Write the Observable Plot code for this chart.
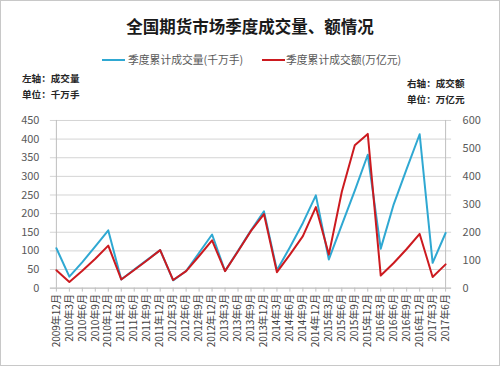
<!DOCTYPE html>
<html>
<head>
<meta charset="utf-8">
<script src="https://cdn.jsdelivr.net/npm/d3@7"></script>
<script src="https://cdn.jsdelivr.net/npm/@observablehq/plot@0.6"></script>
<style>
  html, body { margin: 0; padding: 0; background: #fff; }
  #wrap { position: relative; width: 500px; height: 366px; box-sizing: border-box; border: 1px solid #c8c8c8; overflow: hidden; font-family: "Noto Sans CJK SC", "Noto Sans", sans-serif; }
  .abs { position: absolute; white-space: nowrap; }
  #title { left: 0; width: 498px; top: 13px; text-align: center; font-size: 16.5px; font-weight: bold; color: #1a1a1a; }
  .leg { top: 50px; font-size: 10.8px; color: #595959; }
  .sw { position: absolute; top: 58px; height: 2px; width: 23px; }
  .note { font-size: 9.6px; font-weight: bold; color: #262626; }
  #chart { position: absolute; left: -1px; top: 109px; }
</style>
</head>
<body>
<div id="wrap">
  <div id="title" class="abs">全国期货市场季度成交量、额情况</div>
  <div class="sw" style="left:101px;background:#2fa8d2"></div>
  <div class="abs leg" style="left:127px">季度累计成交量(千万手)</div>
  <div class="sw" style="left:261px;background:#cc1a1f"></div>
  <div class="abs leg" style="left:285px">季度累计成交额(万亿元)</div>
  <div class="abs note" style="left:21px;top:70px">左轴：成交量</div>
  <div class="abs note" style="left:21px;top:86px">单位：千万手</div>
  <div class="abs note" style="left:406px;top:75px">右轴：成交额</div>
  <div class="abs note" style="left:406px;top:91px">单位：万亿元</div>
  <div id="chart"></div>
</div>
<script>
const categories = ["2009年12月","2010年3月","2010年6月","2010年9月","2010年12月","2011年3月","2011年6月","2011年9月","2011年12月","2012年3月","2012年6月","2012年9月","2012年12月","2013年3月","2013年6月","2013年9月","2013年12月","2014年3月","2014年6月","2014年9月","2014年12月","2015年3月","2015年6月","2015年9月","2015年12月","2016年3月","2016年6月","2016年9月","2016年12月","2017年3月","2017年6月"];
// 季度累计成交量 (千万手), left axis
const volume = [107, 31, 70, 112, 155, 23, 50, 76, 102, 21, 46, 95, 144, 46, 100, 155, 206, 48, 110, 175, 249, 77, 170, 262, 358, 106, 225, 320, 413, 68, 148];
// 季度累计成交额 (万亿元), right axis
const turnover = [64, 22, 62, 105, 152, 31, 65, 100, 136, 29, 61, 115, 171, 61, 132, 205, 265, 57, 120, 186, 290, 120, 345, 511, 552, 45, 90, 140, 194, 40, 85];
const leftTicks = [0, 50, 100, 150, 200, 250, 300, 350, 400, 450];
const rightTicks = [0, 100, 200, 300, 400, 500, 600];

const leftMax = 450, rightMax = 600;
const k = leftMax / rightMax;

const volData = categories.map((c, i) => ({c, v: volume[i]}));
const turnData = categories.map((c, i) => ({c, v: turnover[i] * k}));

const chart = Plot.plot({
  width: 500,
  height: 257,
  marginTop: 10,
  marginBottom: 79,
  marginLeft: 50,
  marginRight: 48,
  style: {fontFamily: "'Noto Sans CJK SC', 'Noto Sans', sans-serif", fontSize: "10px", color: "#404040", background: "transparent"},
  x: {type: "point", domain: categories, padding: 0},
  y: {domain: [0, leftMax]},
  marks: [
    Plot.gridY(leftTicks, {stroke: "#d4d4d4", strokeOpacity: 1}),
    Plot.ruleX([categories[0], categories[categories.length - 1]], {stroke: "#bfbfbf"}),
    Plot.ruleY([0], {stroke: "#bfbfbf"}),
    Plot.axisY(leftTicks, {anchor: "left", tickSize: 0, tickPadding: 11, fontSize: 11, fill: "#595959", label: null}),
    Plot.axisY(rightTicks.map(t => t * k), {anchor: "right", tickSize: 0, tickPadding: 11, fontSize: 11, fill: "#595959", tickFormat: d => Math.round(d / k), label: null}),
    Plot.axisX({tickRotate: -90, tickSize: 4, tickPadding: 2, stroke: "#bfbfbf", fill: "#404040", fontSize: 10, label: null}),
    Plot.line(volData, {x: "c", y: "v", stroke: "#2fa8d2", strokeWidth: 2}),
    Plot.line(turnData, {x: "c", y: "v", stroke: "#cc1a1f", strokeWidth: 2})
  ]
});
document.getElementById("chart").appendChild(chart);
</script>
</body>
</html>
